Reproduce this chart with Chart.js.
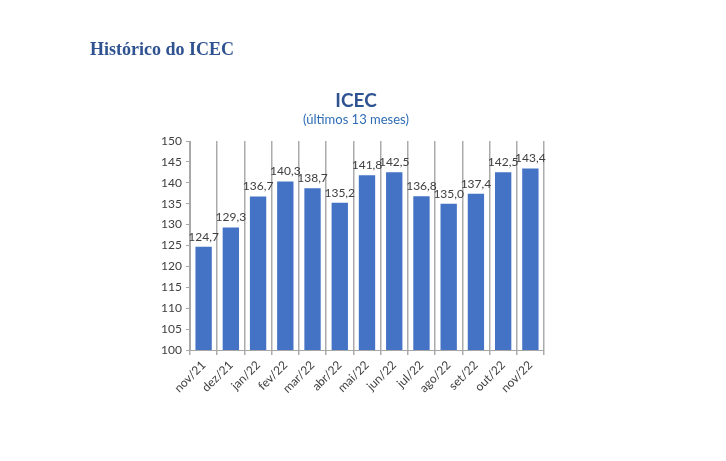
<!DOCTYPE html>
<html>
<head>
<meta charset="utf-8">
<script src="https://cdn.jsdelivr.net/npm/chart.js@4.4.0/dist/chart.umd.min.js"></script>
<style>
  html, body { margin: 0; padding: 0; background: #fff; }
  #wrap { position: relative; width: 726px; height: 461px; }
  #pageTitle {
    position: absolute; left: 90px; top: 39px;
    font-family: "Liberation Serif", "DejaVu Serif", serif;
    font-weight: bold; font-size: 18px; color: #2F5291;
  }
  .chartTitle {
    position: absolute; left: 256px; width: 200px; text-align: center;
    font-family: Lato, "Open Sans", sans-serif; line-height: 1;
  }
  #mainTitle { top: 90px; font-size: 19px; font-weight: bold; color: #2F5291; }
  #subTitle { top: 113px; font-size: 13px; color: #2E6DB5; }
  canvas { position: absolute; left: 0; top: 0; }
</style>
</head>
<body>
<div id="wrap">
  <canvas id="icecChart" width="726" height="461"></canvas>
  <div id="pageTitle">Histórico do ICEC</div>
  <div id="mainTitle" class="chartTitle">ICEC</div>
  <div id="subTitle" class="chartTitle">(últimos 13 meses)</div>
</div>
<script>
const months = ["nov/21", "dez/21", "jan/22", "fev/22", "mar/22", "abr/22", "mai/22",
  "jun/22", "jul/22", "ago/22", "set/22", "out/22", "nov/22"];
const icec = [124.7, 129.3, 136.7, 140.3, 138.7, 135.2, 141.8, 142.5, 136.8, 135.0, 137.4, 142.5, 143.4];
const yTicks = [100, 105, 110, 115, 120, 125, 130, 135, 140, 145, 150];

const fmt = (v) => v.toFixed(1).replace(".", ",");
const chartFont = "Lato, 'Open Sans', sans-serif";

// rotulos em cima das barras
const valueLabels = {
  id: "valueLabels",
  afterDatasetsDraw(chart) {
    const ctx = chart.ctx;
    const meta = chart.getDatasetMeta(0);
    ctx.save();
    ctx.font = "12px " + chartFont;
    ctx.fillStyle = "#404040";
    ctx.textAlign = "center";
    ctx.textBaseline = "bottom";
    meta.data.forEach((bar, i) => {
      ctx.fillText(fmt(icec[i]), bar.x, bar.y - 4);
    });
    ctx.restore();
  },
};

const ctx = document.getElementById("icecChart").getContext("2d");
const icecChart = new Chart(ctx, {
  type: "bar",
  data: {
    labels: months,
    datasets: [
      {
        label: "ICEC",
        data: icec,
        backgroundColor: "#4472C4",
        barPercentage: 0.6,
        categoryPercentage: 1,
      },
    ],
  },
  options: {
    responsive: false,
    animation: false,
    layout: {
      padding: { left: 150, right: 182, top: 141, bottom: 51 },
    },
    scales: {
      y: {
        min: 100,
        max: 150,
        afterBuildTicks: (scale) => {
          scale.ticks = yTicks.map((v) => ({ value: v }));
        },
        afterFit: (scale) => {
          scale.width = 40;
        },
        grid: {
          drawOnChartArea: false,
          drawTicks: true,
          tickLength: 4,
          color: "#A6A6A6",
        },
        border: { color: "#A6A6A6", width: 1 },
        ticks: {
          color: "#404040",
          font: { family: chartFont, size: 12 },
          padding: 4,
        },
      },
      x: {
        afterFit: (scale) => {
          scale.height = 60;
        },
        grid: {
          offset: true,
          color: "#ABABAB",
          lineWidth: 1.5,
          tickLength: 5,
        },
        border: { color: "#A6A6A6", width: 1 },
        ticks: {
          color: "#404040",
          font: { family: chartFont, size: 12 },
          maxRotation: 45,
          minRotation: 45,
          padding: 3,
        },
      },
    },
    plugins: {
      legend: { display: false },
      tooltip: { enabled: false },
    },
  },
  plugins: [valueLabels],
});
</script>
</body>
</html>
